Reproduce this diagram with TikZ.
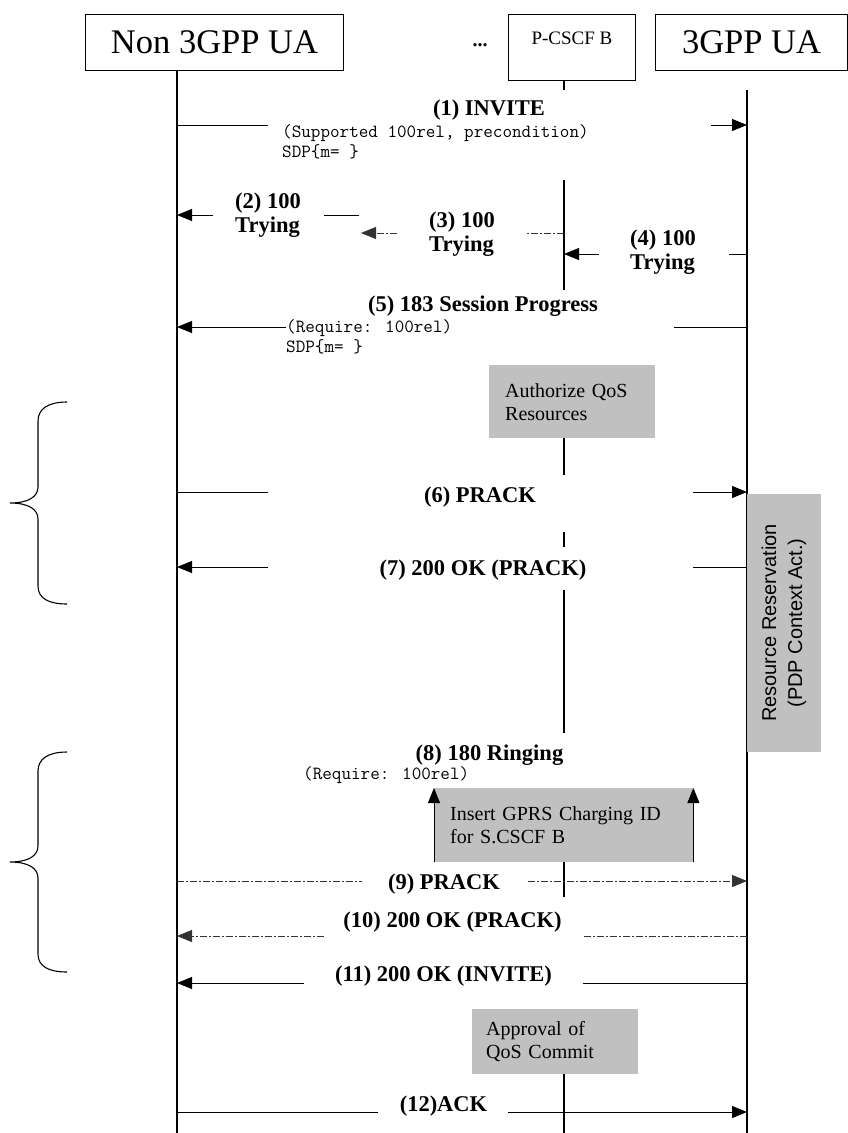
\documentclass[tikz,border=0pt]{standalone}
\usepackage{fontspec}
\setmainfont{Liberation Serif}
\newfontfamily\sansf{Liberation Sans}
\usetikzlibrary{arrows.meta}
\definecolor{boxgray}{HTML}{C0C0C0}
\begin{document}
\begin{tikzpicture}[x=1pt,y=-1pt,
  life/.style={line width=1.1pt},
  msg/.style={line width=0.9pt},
  tip/.style={-{Triangle[length=15pt,width=12pt]}},
  dd/.style={dash pattern=on 7pt off 2pt on 2pt off 2pt, black!80},
  lbl/.style={font=\fontsize{22.5}{24}\selectfont\bfseries, inner sep=0pt, align=left},
  mono/.style={font=\ttfamily\fontsize{18.6}{20}\selectfont, inner sep=0pt, align=left},
  gbox/.style={fill=boxgray, inner ysep=0pt, align=left, font=\fontsize{20}{23}\selectfont},
  hdr/.style={draw, line width=1pt, inner sep=0pt},
  brace/.style={line width=1.1pt}
]
\useasboundingbox (0,0) rectangle (848,1133);

% headers
\node[hdr, anchor=north west, minimum width=258pt, minimum height=56pt, font=\fontsize{34.5}{38}\selectfont] (ua1) at (85,14) {Non 3GPP UA};
\node[anchor=base, font=\fontsize{20}{22}\selectfont\bfseries, inner sep=0pt] (dots) at (480,46) {...};
\node[hdr, anchor=north west, minimum width=127pt, text height=30pt, text depth=36pt, font=\fontsize{19}{21}\selectfont] (pcscf) at (508,14) {P-CSCF B};
\node[hdr, anchor=north west, minimum width=192pt, minimum height=56pt, font=\fontsize{34.5}{38}\selectfont] (ua2) at (655,14) {3GPP UA};

% lifelines
\coordinate (A0) at (177,70);  \coordinate (A1) at (177,1133);
\coordinate (B0) at (747,90);  \coordinate (B1) at (747,1133);
\draw[life] (A0) -- (A1);
\draw[life] (B0) -- (B1);
\coordinate (P0) at (564,80);   \coordinate (P1) at (564,90);
\coordinate (P2) at (564,180);  \coordinate (P3) at (564,290);
\coordinate (P4) at (564,438);  \coordinate (P5) at (564,475);
\coordinate (P6) at (564,532);  \coordinate (P7) at (564,547);
\coordinate (P8) at (564,590);  \coordinate (P9) at (564,733);
\coordinate (P10) at (564,862); \coordinate (P11) at (564,897);
\coordinate (P12) at (564,1074); \coordinate (P13) at (564,1133);
\draw[life] (P0) -- (P1);
\draw[life] (P2) -- (P3);
\draw[life] (P4) -- (P5);
\draw[life] (P6) -- (P7);
\draw[life] (P8) -- (P9);
\draw[life] (P10) -- (P11);
\draw[life] (P12) -- (P13);

% (1)
\coordinate (a1) at (177,125); \coordinate (g1l) at (268,125);
\coordinate (g1r) at (711,125); \coordinate (b1) at (747,125);
\draw[msg] (a1) -- (g1l);
\draw[msg,tip] (g1r) -- (b1);
\node[lbl] (l1) at (489,110) {(1) INVITE};
\node[mono, anchor=west] (m1) at (282,142) {(Supported 100rel, precondition)\\SDP\{m= \}};

% (2)
\coordinate (a2) at (177,215); \coordinate (g2l) at (213,215);
\coordinate (g2r) at (324,215); \coordinate (x2) at (359,215);
\draw[msg,tip] (g2l) -- (a2);
\draw[msg] (x2) -- (g2r);
\node[lbl, anchor=west] (l2) at (235,215) {(2) 100\\Trying};

% (3)
\coordinate (x3) at (361,233); \coordinate (g3l) at (397,233);
\coordinate (g3r) at (525,233); \coordinate (p3) at (564,233);
\draw[msg,dd,tip] (g3l) -- (x3);
\draw[msg,dd] (p3) -- (g3r);
\node[lbl, anchor=west] (l3) at (429,234.5) {(3) 100\\Trying};

% (4)
\coordinate (p4) at (564,254); \coordinate (g4l) at (599,254);
\coordinate (g4r) at (729,254); \coordinate (b4) at (747,254);
\draw[msg,tip] (g4l) -- (p4);
\draw[msg] (b4) -- (g4r);
\node[lbl, anchor=west] (l4) at (630,252.5) {(4) 100\\Trying};

% (5)
\coordinate (a5) at (177,327); \coordinate (g5l) at (286,327);
\coordinate (g5r) at (674,327); \coordinate (b5) at (747,327);
\draw[msg,tip] (g5l) -- (a5);
\draw[msg] (b5) -- (g5r);
\node[lbl] (l5) at (483,306) {(5) 183 Session Progress};
\node[mono, anchor=west] (m5) at (286,337) {(Require: 100rel)\\SDP\{m= \}};

% Authorize box
\node[gbox, anchor=north west, text width=134pt, inner xsep=16pt, minimum height=73pt] (auth) at (489,365) {Authorize QoS\\Resources};

% (6)
\coordinate (a6) at (177,492); \coordinate (g6l) at (268,492);
\coordinate (g6r) at (693,492); \coordinate (b6) at (747,492);
\draw[msg] (a6) -- (g6l);
\draw[msg,tip] (g6r) -- (b6);
\node[lbl] (l6) at (480,497) {(6) PRACK};

% (7)
\coordinate (a7) at (177,567); \coordinate (g7l) at (268,567);
\coordinate (g7r) at (693,567); \coordinate (b7) at (747,567);
\draw[msg,tip] (g7l) -- (a7);
\draw[msg] (b7) -- (g7r);
\node[lbl] (l7) at (483,570) {(7) 200 OK (PRACK)};

% Resource reservation box
\node[gbox, rotate=90, align=center, inner sep=0pt, minimum width=258pt, minimum height=74pt, font=\sansf\fontsize{20}{26}\selectfont] (res) at (784,623) {Resource Reservation\\(PDP Context Act.)};

% (8)
\node[lbl] (l8) at (489.5,755) {(8) 180 Ringing};
\node[mono, anchor=west] (m8) at (303,775) {(Require: 100rel)};
\node[gbox, anchor=north west, text width=227pt, inner xsep=16pt, minimum height=74pt] (ins) at (434,788) {Insert GPRS Charging ID\\for S.CSCF B};
\draw[msg,tip] (ins.south west) -- (ins.north west);
\draw[msg,tip] (ins.south east) -- (ins.north east);

% (9)
\coordinate (a9) at (177,881); \coordinate (g9l) at (362,881);
\coordinate (g9r) at (528,881); \coordinate (b9) at (747,881);
\draw[msg,dd] (a9) -- (g9l);
\draw[msg,dd,tip] (g9r) -- (b9);
\node[lbl] (l9) at (444,884) {(9) PRACK};

% (10)
\coordinate (a10) at (177,936); \coordinate (g10l) at (324,936);
\coordinate (g10r) at (583,936); \coordinate (b10) at (747,936);
\draw[msg,dd,tip] (g10l) -- (a10);
\draw[msg,dd] (b10) -- (g10r);
\node[lbl] (l10) at (452.5,922) {(10) 200 OK (PRACK)};

% (11)
\coordinate (a11) at (177,983); \coordinate (g11l) at (304,983);
\coordinate (g11r) at (583,983); \coordinate (b11) at (747,983);
\draw[msg,tip] (g11l) -- (a11);
\draw[msg] (b11) -- (g11r);
\node[lbl] (l11) at (443.5,976) {(11) 200 OK (INVITE)};

% Approval box
\node[gbox, anchor=north west, text width=138pt, inner xsep=14pt, minimum height=65pt] (appr) at (472,1009) {Approval of\\QoS Commit};

% (12)
\coordinate (a12) at (177,1112); \coordinate (g12l) at (378,1112);
\coordinate (g12r) at (508,1112); \coordinate (b12) at (747,1112);
\draw[msg] (a12) -- (g12l);
\draw[msg,tip] (g12r) -- (b12);
\node[lbl] (l12) at (443.5,1106) {(12)ACK};

% braces
\draw[brace] (67,402) .. controls (48,402) and (38,409) .. (38,421) -- (38,487)
  .. controls (38,497) and (28,503) .. (10,503)
  .. controls (28,503) and (38,509) .. (38,519) -- (38,586)
  .. controls (38,598) and (48,604) .. (67,604);
\draw[brace] (67,752) .. controls (48,752) and (38,759) .. (38,771) -- (38,846)
  .. controls (38,856) and (28,862) .. (10,862)
  .. controls (28,862) and (38,868) .. (38,878) -- (38,954)
  .. controls (38,966) and (48,972) .. (67,972);
\end{tikzpicture}
\end{document}
